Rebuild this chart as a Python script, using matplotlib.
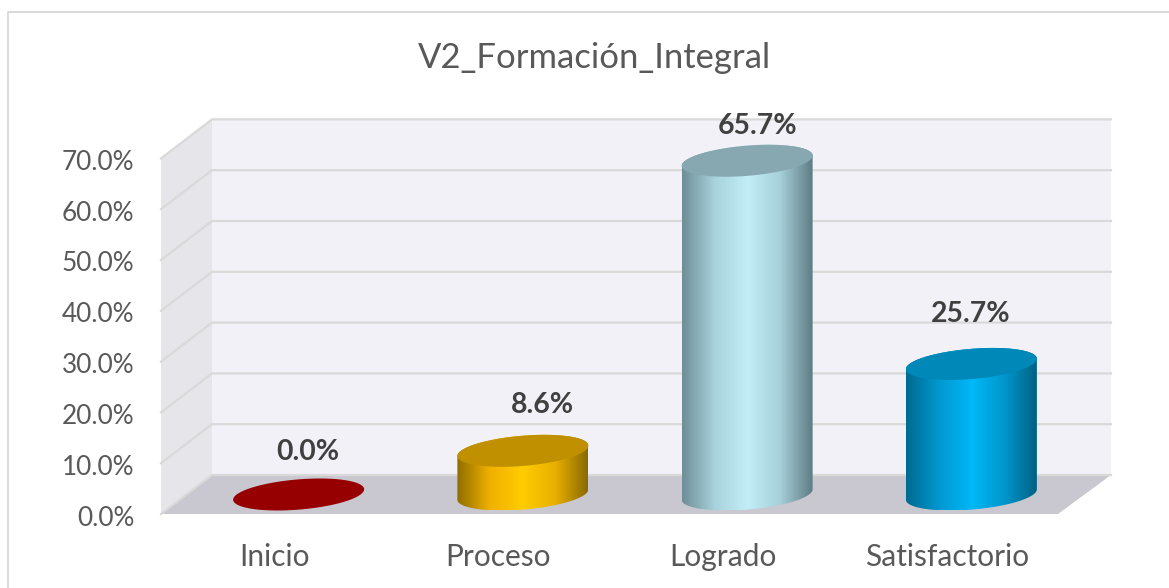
import matplotlib
matplotlib.use("Agg")
import matplotlib.pyplot as plt
import numpy as np
from matplotlib.colors import LinearSegmentedColormap
from matplotlib.lines import Line2D
from matplotlib.patches import Polygon
from matplotlib.transforms import ScaledTranslation

categories = ["Inicio", "Proceso", "Logrado", "Satisfactorio"]
values = [0.0, 8.6, 65.7, 25.7]
value_labels = ["0.0%", "8.6%", "65.7%", "25.7%"]
y_ticks = [0, 10, 20, 30, 40, 50, 60, 70]
y_tick_labels = ["0.0%", "10.0%", "20.0%", "30.0%", "40.0%", "50.0%", "60.0%", "70.0%"]

top_colours = ["#960000", "#C09000", "#87A8B1", "#0088B8"]
side_colours = [
    ["#960000", "#960000", "#960000", "#960000", "#960000"],
    ["#8F6E00", "#F0B000", "#FFCC00", "#E8B000", "#8A6A00"],
    ["#6F8E96", "#A8D2DC", "#C2EEF8", "#A6D0DA", "#5F7C84"],
    ["#006A90", "#0098D0", "#00B8F8", "#0096CC", "#005F80"],
]
# label shift from the cylinder top, in pixels (placed by hand in the original)
label_shift = [(9, 43), (20, 46), (10, 35), (-1, 50)]

W, H = 1169, 588
plt.rcParams["font.family"] = ["Lato", "DejaVu Sans"]

# plot box in pixels: front floor edge 161..1058, back wall ends at 1111
left, right, bottom, top = 161, 1111, 514, 119.5
cat_px = 224.25
val_px = 5.08
depth_x = 51 / cat_px
depth_y = 39 / val_px

fig = plt.figure(figsize=(W / 100, H / 100), dpi=100)
fig.patch.set_facecolor("white")
# chart frame is cut off on the right and at the bottom
fig.add_artist(Line2D([8 / W, 8 / W, 1], [0, 1 - 12 / H, 1 - 12 / H], transform=fig.transFigure,
                      color="#D9D9D9", lw=1.4))

ax = fig.add_axes([left / W, 1 - bottom / H, (right - left) / W, (bottom - top) / H])
x0 = -0.5
x1 = x0 + (right - left) / cat_px
y1 = (bottom - top) / val_px
front_r = x0 + len(categories)

ax.patch.set_visible(False)
for s in ax.spines.values():
    s.set_visible(False)

# walls and floor
ax.add_patch(Polygon([(x0 + depth_x, depth_y), (x1, depth_y), (x1, y1), (x0 + depth_x, y1)],
                     facecolor="#F3F1F8", edgecolor="none", zorder=1))
ax.add_patch(Polygon([(x0, 0), (x0 + depth_x, depth_y), (x0 + depth_x, y1), (x0, y1 - depth_y)],
                     facecolor="#E6E5EA", edgecolor="none", zorder=1))
ax.add_patch(Polygon([(x0, 0), (x0 + depth_x, depth_y), (x1, depth_y), (front_r, 0)],
                     facecolor="#C9C7D0", edgecolor="none", zorder=1))
for tick in y_ticks:
    ax.plot([x0, x0 + depth_x, x1], [tick, tick + depth_y, tick + depth_y], color="#D9D9D9", lw=1.6,
            zorder=2, clip_on=False)

# cylinders
half_w = 65.5 / cat_px
r_y = 16 / val_px
tilt = 5.2 / val_px
t = np.linspace(0, 2 * np.pi, 181)


def ellipse(cx, cy):
    # circle on the floor plane seen obliquely, so it comes out tilted up to the right
    ex = cx + half_w * np.cos(t)
    ey = cy + np.sqrt(r_y ** 2 - tilt ** 2) * np.sin(t) + tilt * np.cos(t)
    return np.column_stack([ex, ey])


for i, v in enumerate(values):
    cx = i + depth_x / 2
    cy = depth_y / 2
    base = ellipse(cx, cy)
    lid = ellipse(cx, cy + v)
    if v > 0:
        # side = lower half of the base joined to the upper outline of the lid
        low = base[t >= np.pi]
        up = lid[t <= np.pi]
        side = Polygon(np.vstack([low, up]), facecolor="none", edgecolor="none")
        ax.add_patch(side)
        cmap = LinearSegmentedColormap.from_list("side", side_colours[i])
        grad = np.linspace(0, 1, 256)[np.newaxis, :]
        im = ax.imshow(grad, cmap=cmap, aspect="auto", zorder=3,
                       extent=[cx - half_w, cx + half_w, cy - r_y, cy + v + r_y])
        im.set_clip_path(side)
    ax.add_patch(Polygon(lid, facecolor=top_colours[i], edgecolor="none", zorder=4))
    dx, dy = label_shift[i]
    ax.annotate(value_labels[i], (cx, cy + v), xytext=(dx * 0.72, dy * 0.72), textcoords="offset points",
                ha="center", va="center", fontsize=20.4, fontweight="bold", color="#404040",
                annotation_clip=False, zorder=5)

ax.set_xlim(x0, x1)
ax.set_ylim(0, y1)
ax.set_xticks(range(len(categories)))
ax.set_xticklabels(categories)
ax.set_yticks(y_ticks)
ax.set_yticklabels(y_tick_labels)
ax.tick_params(axis="x", length=0, labelsize=21.5, labelcolor="#595959", pad=21)
ax.tick_params(axis="y", length=0, labelsize=18.8, labelcolor="#595959", pad=19.3)
for lab in ax.get_yticklabels():
    lab.set_transform(lab.get_transform() + ScaledTranslation(0, -1.5 / 100, fig.dpi_scale_trans))
for lab in ax.get_xticklabels():
    lab.set_transform(lab.get_transform() + ScaledTranslation(1 / 100, 0, fig.dpi_scale_trans))

fig.text(594 / W, 1 - 58.5 / H, "V2_Formación_Integral", ha="center", va="center", fontsize=24.9, color="#595959")

fig.savefig("out.png", dpi=100)
